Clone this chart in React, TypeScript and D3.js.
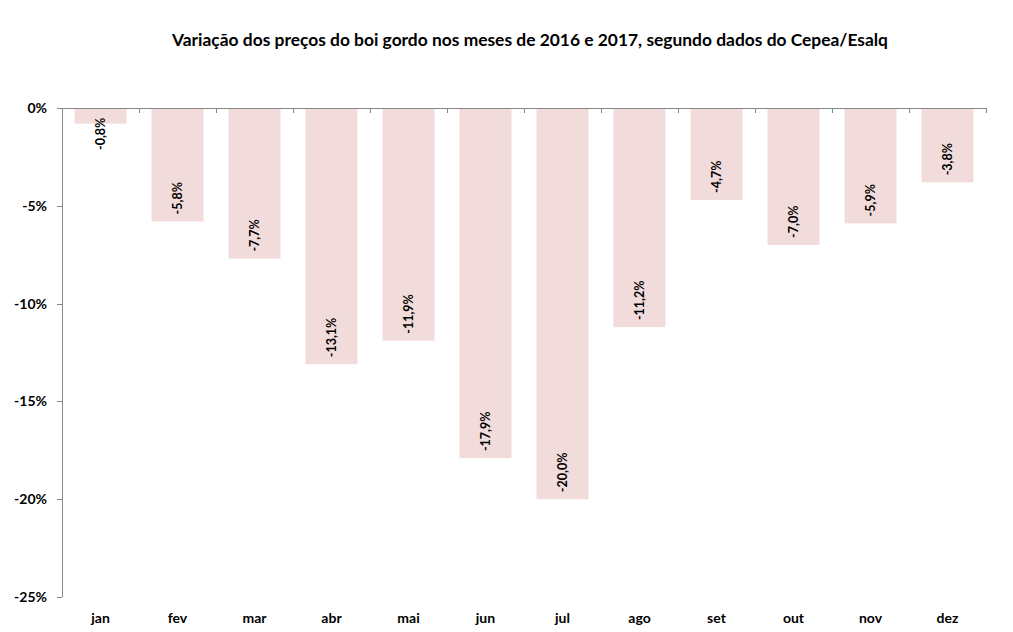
import React from "react";
import * as d3 from "d3";

const months = ["jan", "fev", "mar", "abr", "mai", "jun", "jul", "ago", "set", "out", "nov", "dez"];
const values = [-0.8, -5.8, -7.7, -13.1, -11.9, -17.9, -20.0, -11.2, -4.7, -7.0, -5.9, -3.8];
const yTicks = [0, -5, -10, -15, -20, -25];
const title = "Variação dos preços do boi gordo nos meses de 2016 e 2017, segundo dados do Cepea/Esalq";

const W = 1013;
const H = 632;
const left = 62;
const right = 986;
const top = 108;
const bottom = 597;
const font = "Lato, 'Open Sans', sans-serif";

export default function App() {
  const x = d3.scaleBand<string>().domain(months).range([left, right]).paddingInner(0.325).paddingOuter(0.1625);
  const y = d3.scaleLinear().domain([-25, 0]).range([bottom, top]);
  const step = x.step();
  const fmt = (v: number) => v.toFixed(1).replace(".", ",") + "%";
  const axisColor = "#868686";
  return (
    <svg width={W} height={H} style={{ position: "absolute", left: 0, top: 0, background: "#fff" }} fontFamily={font}>
      <text x={530} y={46} textAnchor="middle" fontSize={17.4} fontWeight="bold" fill="#000">{title}</text>
      {months.map((m, i) => (
        <rect key={m} x={x(m)} y={y(0)} width={x.bandwidth()} height={y(values[i]) - y(0)} fill="#f2dcdb" />
      ))}
      {/* y axis */}
      <line x1={left + 0.5} x2={left + 0.5} y1={top} y2={bottom} stroke={axisColor} />
      {yTicks.map((t) => (
        <g key={t}>
          <line x1={left - 5} x2={left} y1={Math.round(y(t)) + 0.5} y2={Math.round(y(t)) + 0.5} stroke={axisColor} />
          <text x={47} y={y(t) + 5} textAnchor="end" fontSize={14} fontWeight="bold" fill="#000">{t === 0 ? "0%" : `${t}%`}</text>
        </g>
      ))}
      {/* x axis at zero */}
      <line x1={left} x2={right} y1={Math.round(y(0)) + 0.5} y2={Math.round(y(0)) + 0.5} stroke={axisColor} />
      {d3.range(13).map((i) => (
        <line key={i} x1={Math.round(left + i * step) + 0.5} x2={Math.round(left + i * step) + 0.5} y1={y(0)} y2={y(0) + 5} stroke={axisColor} />
      ))}
      {months.map((m) => (
        <text key={m} x={(x(m) as number) + x.bandwidth() / 2} y={623} textAnchor="middle" fontSize={14} fontWeight="bold" fill="#000">{m}</text>
      ))}
      {months.map((m, i) => {
        const cx = (x(m) as number) + x.bandwidth() / 2 + 4.5;
        const textLen = 37;
        const py = Math.max(y(values[i]) - 7, y(0) + 5 + textLen);
        return (
          <text key={m} transform={`translate(${cx},${py}) rotate(-90)`} textAnchor="start" fontSize={12.5} fontWeight="bold" fill="#000">{fmt(values[i])}</text>
        );
      })}
    </svg>
  );
}
